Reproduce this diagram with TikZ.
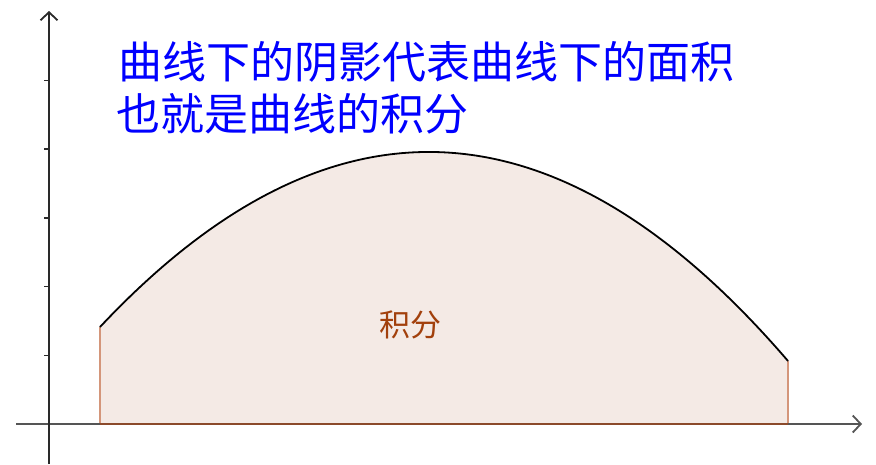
\documentclass[tikz,border=0pt]{standalone}
\usepackage{fontspec}
\usetikzlibrary{arrows.meta}
\newfontfamily\cjk{Noto Sans CJK SC}
\definecolor{areafill}{HTML}{F4EAE5}
\definecolor{areaside}{HTML}{D4967A}
\definecolor{areabase}{HTML}{8B4A2B}
\definecolor{labelbrown}{HTML}{A2400C}
\definecolor{axisgray}{HTML}{2A2A2A}
\begin{document}
\begin{tikzpicture}[x=1pt,y=-1pt,
  axisline/.style={axisgray,line width=1.8pt,-{Straight Barb[length=8pt,width=17pt]}},
  tickmark/.style={axisgray,line width=1.5pt},
  titletext/.style={font=\cjk\fontsize{44}{52}\selectfont,text=blue,inner sep=0pt,anchor=base west},
  areatext/.style={font=\cjk\fontsize{31}{34}\selectfont,text=labelbrown,inner sep=0pt}]
\useasboundingbox (0,0) rectangle (876,464);

% shaded area under the curve
\coordinate (a0) at (100,424);
\coordinate (a1) at (100,327);
\coordinate (b1) at (788,361);
\coordinate (b0) at (788,424);
\fill[areafill] (a0) -- (a1) .. controls (329.3,82.8) and (558.7,94.1) .. (b1) -- (b0) -- cycle;
\draw[areaside,line width=2.2pt] (a0) -- (a1);
\draw[areaside,line width=2.2pt] (b0) -- (b1);
\draw[black,line width=1.8pt] (a1) .. controls (329.3,82.8) and (558.7,94.1) .. (b1);

% axes
\coordinate (xs) at (16,424);
\coordinate (xe) at (862,424);
\coordinate (ys) at (49,464);
\coordinate (ye) at (49,11);
\draw[axisline,axisgray!80] (xs) -- (xe);
\draw[axisline] (ys) -- (ye);
\draw[areabase,line width=1.8pt] (a0) -- (b0);
\foreach \t in {355.3,286.6,217.9,149.2,80.5}
  \draw[tickmark] (44,\t) -- (49,\t);

% labels
\node[titletext] (line1) at (118,78) {曲线下的阴影代表曲线下的面积};
\node[titletext] (line2) at (116,130) {也就是曲线的积分};
\node[areatext] (area) at (410,325) {积分};
\end{tikzpicture}
\end{document}
